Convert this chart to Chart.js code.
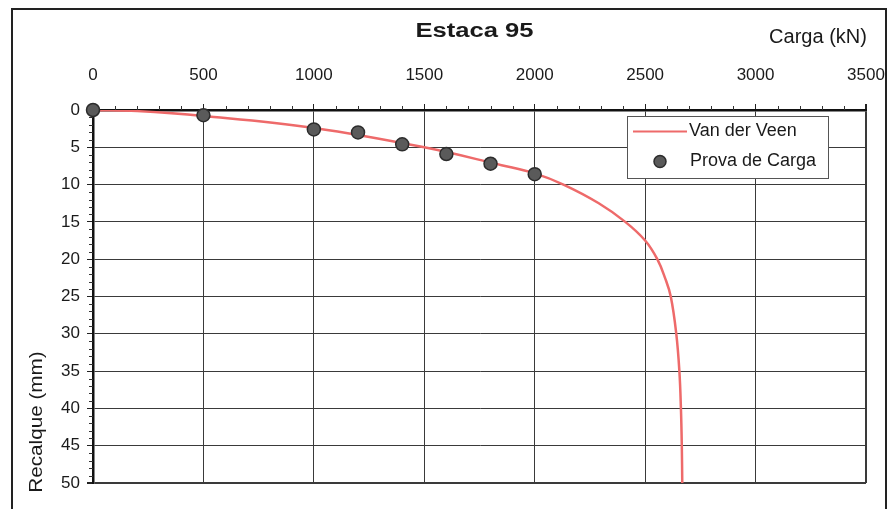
<!DOCTYPE html>
<html>
<head>
<meta charset="utf-8">
<script src="https://cdn.jsdelivr.net/npm/chart.js@4.4.1/dist/chart.umd.min.js"></script>
<style>
  html, body { margin: 0; padding: 0; background: #fff; }
  #wrap { width: 889px; height: 509px; }
</style>
</head>
<body>
<div id="wrap"><canvas id="c" width="889" height="509"></canvas></div>
<script>
// Text
const chartTitle = 'Estaca 95';
const xAxisTitle = 'Carga (kN)';
const yAxisTitle = 'Recalque (mm)';
const seriesNames = ['Van der Veen', 'Prova de Carga'];

// Axis ticks
const loadTicks = [0, 500, 1000, 1500, 2000, 2500, 3000, 3500];
const settleTicks = [0, 5, 10, 15, 20, 25, 30, 35, 40, 45, 50];

// Load test readings (kN, mm)
const testLoad   = [0, 500, 1000, 1200, 1400, 1600, 1800, 2000];
const testSettle = [0, 0.7, 2.6, 3.0, 4.6, 5.9, 7.2, 8.6];

// Van der Veen fitted curve (kN, mm)
const vdvLoad   = [0, 200, 500, 1000, 1500, 1850, 2000, 2130, 2290, 2410, 2500, 2555, 2590, 2616, 2641, 2655, 2662, 2666, 2668];
const vdvSettle = [0, 0.15, 0.8, 2.4, 5.0, 7.4, 8.5, 10, 12.5, 15, 17.5, 20, 22.5, 25, 30, 35, 40, 45, 50];

const FONT = "'Liberation Sans', Arial, sans-serif";
const INK = '#1a1a1a';
const CURVE = '#ee6a6a';
const DOT_FILL = '#5a5a5a';
const DOT_EDGE = '#2c2c2c';

const toXY = (xs, ys) => xs.map((v, i) => ({ x: v, y: ys[i] }));

// Outer frame and free text (title, axis names)
const decorations = {
  id: 'decorations',
  beforeDraw(chart) {
    const ctx = chart.ctx;
    ctx.save();
    ctx.fillStyle = '#fff';
    ctx.fillRect(0, 0, chart.width, chart.height);
    ctx.strokeStyle = '#222';
    ctx.lineWidth = 2;
    ctx.strokeRect(12, 9, 874, 530);
    ctx.restore();
  },
  afterDraw(chart) {
    const ctx = chart.ctx;
    ctx.save();
    ctx.fillStyle = INK;
    ctx.textBaseline = 'middle';
    ctx.textAlign = 'center';
    // title
    ctx.save();
    ctx.translate(474.5, 31);
    ctx.scale(1.28, 1);
    ctx.font = 'bold 20px ' + FONT;
    ctx.fillText(chartTitle, 0, 0);
    ctx.restore();
    // x axis name
    ctx.font = '20px ' + FONT;
    ctx.fillText(xAxisTitle, 818, 37);
    // y axis name
    ctx.save();
    ctx.translate(37, 422);
    ctx.rotate(-Math.PI / 2);
    ctx.scale(1.15, 1);
    ctx.font = '18px ' + FONT;
    ctx.fillText(yAxisTitle, 0, 0);
    ctx.restore();
    ctx.restore();
  }
};

// Minor tick marks on both axes
const minorTicks = {
  id: 'minorTicks',
  beforeDatasetsDraw(chart) {
    const { ctx, scales: { x, y }, chartArea: ca } = chart;
    ctx.save();
    ctx.strokeStyle = '#333';
    ctx.lineWidth = 1;
    ctx.beginPath();
    for (let v = 100; v < 3500; v += 100) {
      if (v % 500 === 0) continue;
      const px = Math.round(x.getPixelForValue(v)) + 0.5;
      ctx.moveTo(px, ca.top - 4);
      ctx.lineTo(px, ca.top);
    }
    for (let v = 1; v < 50; v += 1) {
      if (v % 5 === 0) continue;
      const py = Math.round(y.getPixelForValue(v)) + 0.5;
      ctx.moveTo(ca.left - 4, py);
      ctx.lineTo(ca.left, py);
    }
    ctx.stroke();
    ctx.restore();
  }
};

// Boxed legend inside the plot
const boxLegend = {
  id: 'boxLegend',
  afterDraw(chart) {
    const { ctx, chartArea: ca } = chart;
    const left = ca.left + 534, top = ca.top + 6, w = 201, h = 62;
    ctx.save();
    ctx.fillStyle = '#fff';
    ctx.fillRect(left, top, w, h);
    ctx.strokeStyle = '#555';
    ctx.lineWidth = 1;
    ctx.strokeRect(left + 0.5, top + 0.5, w, h);
    const line = chart.data.datasets[1];
    const dots = chart.data.datasets[0];
    const r1 = top + 15.5, r2 = top + 45.5;
    ctx.strokeStyle = line.borderColor;
    ctx.lineWidth = 2;
    ctx.beginPath();
    ctx.moveTo(left + 6, r1);
    ctx.lineTo(left + 60, r1);
    ctx.stroke();
    ctx.beginPath();
    ctx.arc(left + 33, r2, 6, 0, Math.PI * 2);
    ctx.fillStyle = dots.backgroundColor;
    ctx.fill();
    ctx.strokeStyle = dots.borderColor;
    ctx.lineWidth = 1.5;
    ctx.stroke();
    ctx.fillStyle = INK;
    ctx.font = '18px ' + FONT;
    ctx.textBaseline = 'middle';
    ctx.textAlign = 'left';
    ctx.fillText(line.label, left + 62, r1);
    ctx.fillText(dots.label, left + 63, r2);
    ctx.restore();
  }
};

new Chart(document.getElementById('c'), {
  type: 'scatter',
  data: {
    datasets: [
      {
        label: seriesNames[1],
        data: toXY(testLoad, testSettle),
        backgroundColor: DOT_FILL,
        borderColor: DOT_EDGE,
        borderWidth: 1.5,
        pointRadius: 6.5,
        order: 0,
        clip: false
      },
      {
        label: seriesNames[0],
        type: 'line',
        data: toXY(vdvLoad, vdvSettle),
        borderColor: CURVE,
        borderWidth: 2.5,
        pointRadius: 0,
        tension: 0.4,
        fill: false,
        order: 1
      }
    ]
  },
  options: {
    responsive: false,
    animation: false,
    devicePixelRatio: 1,
    layout: { padding: { left: 0, top: 0, right: 23, bottom: 26 } },
    plugins: { legend: { display: false }, tooltip: { enabled: false } },
    scales: {
      x: {
        type: 'linear',
        position: 'top',
        min: loadTicks[0],
        max: loadTicks[loadTicks.length - 1],
        afterBuildTicks: s => { s.ticks = loadTicks.map(v => ({ value: v })); },
        afterFit: s => { s.height = 110; s.paddingLeft = 0; s.paddingRight = 0; },
        grid: {
          color: '#3a3a3a',
          lineWidth: c => (c.tick && c.tick.value === 3500 ? 2 : 1),
          tickLength: 6,
          tickColor: '#222'
        },
        border: { display: true, color: '#111', width: 2.5 },
        ticks: {
          font: { family: FONT, size: 17 },
          color: INK,
          padding: 18,
          maxRotation: 0,
          autoSkip: false,
          callback: v => String(v)
        }
      },
      y: {
        type: 'linear',
        reverse: true,
        min: settleTicks[0],
        max: settleTicks[settleTicks.length - 1],
        afterBuildTicks: s => { s.ticks = settleTicks.map(v => ({ value: v })); },
        afterFit: s => { s.width = 93; s.paddingTop = 0; s.paddingBottom = 0; },
        grid: {
          color: '#3a3a3a',
          lineWidth: c => (c.tick && c.tick.value === 50 ? 2 : 1),
          tickLength: 6,
          tickColor: '#222'
        },
        border: { display: true, color: '#111', width: 2.5 },
        ticks: {
          font: { family: FONT, size: 17 },
          color: INK,
          padding: 7,
          autoSkip: false,
          callback: v => String(v)
        }
      }
    }
  },
  plugins: [decorations, minorTicks, boxLegend]
});
</script>
</body>
</html>
